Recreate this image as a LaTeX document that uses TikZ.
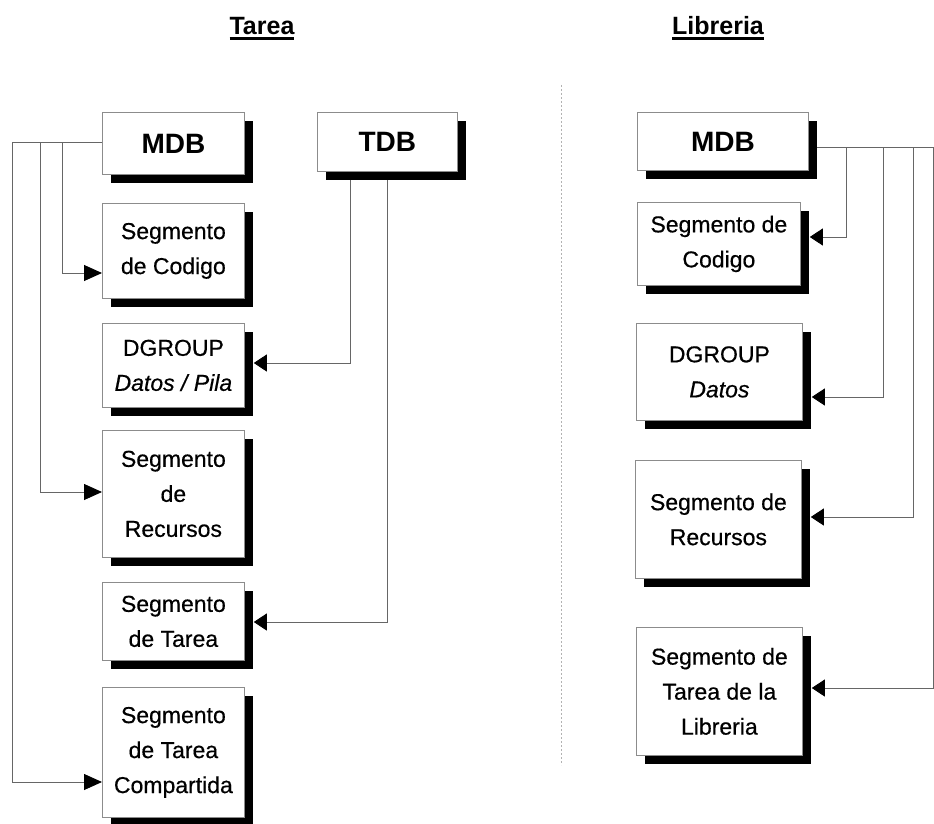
\documentclass[tikz,border=0pt]{standalone}
\usepackage{fontspec}
\setmainfont{Liberation Sans}
\newfontfamily\boxfont[FakeBold=0.5]{Liberation Sans}
\usetikzlibrary{arrows.meta,shadows,backgrounds}

% heading with a heavy rule under it
\newcommand\thickul[1]{\setbox0=\hbox{#1}\rlap{\rule[-5pt]{\wd0}{3pt}}\box0}

\begin{document}
\begin{tikzpicture}[x=1pt,y=-1pt,
  segbox/.style={draw=black!45, line width=0.8pt, fill=white, anchor=north west,
    inner sep=0pt, align=center, font=\boxfont\fontsize{23}{35}\selectfont,
    general shadow={fill=black, shadow xshift=9pt, shadow yshift=-9pt}},
  dbbox/.style={segbox, font=\fontsize{28}{30}\selectfont\bfseries},
  heading/.style={anchor=base, inner sep=0pt, font=\fontsize{25}{28}\selectfont\bfseries},
  conn/.style={draw=black!60, line width=0.9pt},
  tipin/.style={-{Triangle[length=18pt,width=16pt,color=black]}},
  tipback/.style={-{Triangle[length=13pt,width=17pt,color=black]}, shorten >=9pt},
  divider/.style={draw=black!30, line width=1pt, dash pattern=on 2pt off 2pt}]

\useasboundingbox (0,0) rectangle (934,824);

% headings and the dividing line
\node[heading] (tTarea) at (262,35) {\thickul{Tarea}};
\node[heading] (tLib) at (718,35) {\thickul{Libreria}};
\coordinate (divTop) at (561,85);
\coordinate (divBot) at (561,765);
\draw[divider] (divTop) -- (divBot);

% task side
\node[dbbox, minimum width=142pt, minimum height=62pt] (mdbL) at (102,112) {MDB};
\node[segbox, minimum width=142pt, minimum height=95pt] (codL) at (102,203) {Segmento\\de Codigo};
\node[segbox, minimum width=142pt, minimum height=84pt] (dgL) at (102,323) {DGROUP\\\textit{Datos / Pila}};
\node[segbox, minimum width=142pt, minimum height=127pt] (recL) at (102,430) {Segmento\\de\\Recursos};
\node[segbox, minimum width=142pt, minimum height=78pt] (tarL) at (102,582) {Segmento\\de Tarea};
\node[segbox, minimum width=142pt, minimum height=130pt] (cmpL) at (102,687) {Segmento\\de Tarea\\Compartida};
\node[dbbox, minimum width=140pt, minimum height=59pt] (tdb) at (317,112) {TDB};

% library side
\node[dbbox, minimum width=171pt, minimum height=58pt] (mdbR) at (637,112) {MDB};
\node[segbox, minimum width=163pt, minimum height=83pt] (codR) at (637,202) {Segmento de\\Codigo};
\node[segbox, minimum width=166pt, minimum height=97pt] (dgR) at (636,323) {DGROUP\\\textit{Datos}};
\node[segbox, minimum width=166pt, minimum height=118pt] (recR) at (635,460) {Segmento de\\Recursos};
\node[segbox, minimum width=166pt, minimum height=128pt] (libR) at (636,627) {Segmento de\\Tarea de la\\Libreria};

\begin{scope}[on background layer]
  % task MDB references
  \draw[conn, tipin] (mdbL.west |- 0,142) -| (62,273) -- (codL.west |- 0,273);
  \draw[conn, tipin] (mdbL.west |- 0,142) -| (40,492) -- (recL.west |- 0,492);
  \draw[conn, tipin] (mdbL.west |- 0,142) -| (12,782) -- (cmpL.west |- 0,782);
  % TDB references
  \draw[conn, tipback] (tdb.south -| 350,0) -- (350,363) -- (dgL.east |- 0,363);
  \draw[conn, tipback] (tdb.south -| 387,0) -- (387,622) -- (tarL.east |- 0,622);
  % library MDB references
  \draw[conn, tipback] (mdbR.east |- 0,147) -| (846,237) -- (codR.east |- 0,237);
  \draw[conn, tipback] (mdbR.east |- 0,147) -| (883,397) -- (dgR.east |- 0,397);
  \draw[conn, tipback] (mdbR.east |- 0,147) -| (913,517) -- (recR.east |- 0,517);
  \draw[conn, tipback] (mdbR.east |- 0,147) -| (933,688) -- (libR.east |- 0,688);
\end{scope}
\end{tikzpicture}
\end{document}
